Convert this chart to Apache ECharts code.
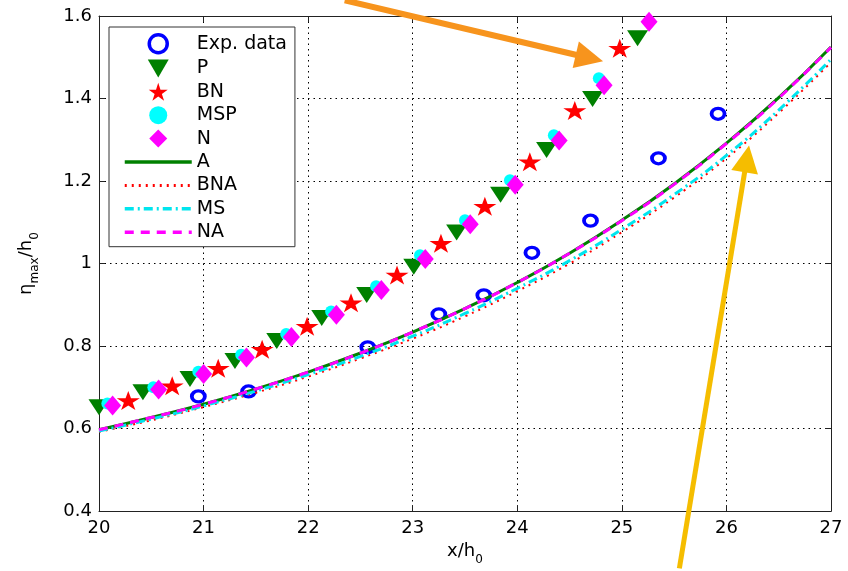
<!DOCTYPE html>
<html><head><meta charset="utf-8">
<script src="https://cdn.jsdelivr.net/npm/echarts@6/dist/echarts.min.js"></script>
<style>html,body{margin:0;padding:0;background:#fff}#c{width:848px;height:571px}</style>
</head><body><div id="c"></div><script>
// ---- data ----
const xMin = 20, xMax = 27, xStep = 1;
const yMin = 0.4, yMax = 1.6, yStep = 0.2;

const expX = [20.95, 21.43, 22.57, 23.25, 23.68, 24.14, 24.70, 25.35, 25.92];
const expY = [0.678, 0.690, 0.797, 0.877, 0.923, 1.026, 1.104, 1.255, 1.363];

const pX = [20.00, 20.42, 20.87, 21.30, 21.70, 22.13, 22.56, 23.01, 23.42, 23.84, 24.28, 24.72, 25.15];
const pY = [0.652, 0.688, 0.720, 0.764, 0.812, 0.868, 0.924, 0.992, 1.075, 1.167, 1.275, 1.399, 1.546];

const bnX = [20.28, 20.70, 21.14, 21.56, 21.99, 22.41, 22.85, 23.27, 23.69, 24.12, 24.55, 24.98];
const bnY = [0.668, 0.704, 0.746, 0.792, 0.848, 0.905, 0.972, 1.049, 1.139, 1.247, 1.371, 1.522];

const mspX = [20.08, 20.52, 20.95, 21.36, 21.79, 22.22, 22.65, 23.07, 23.50, 23.93, 24.35, 24.78];
const mspY = [0.661, 0.700, 0.738, 0.779, 0.829, 0.884, 0.945, 1.020, 1.105, 1.202, 1.311, 1.449];

const nX = [20.13, 20.57, 21.00, 21.41, 21.84, 22.27, 22.70, 23.12, 23.55, 23.98, 24.40, 24.83, 25.26];
const nY = [0.656, 0.695, 0.732, 0.772, 0.822, 0.876, 0.936, 1.011, 1.095, 1.191, 1.298, 1.432, 1.586];

const lineX = [20, 20.5, 21, 21.5, 22, 22.5, 23, 23.5, 24, 24.5, 25, 25.5, 26, 26.5, 27];
const aY   = [0.597, 0.627, 0.659, 0.696, 0.737, 0.783, 0.834, 0.891, 0.954, 1.025, 1.105, 1.193, 1.292, 1.402, 1.525];
const bnaY = [0.592, 0.620, 0.652, 0.687, 0.726, 0.770, 0.818, 0.872, 0.933, 1.000, 1.076, 1.160, 1.255, 1.365, 1.488];
const msY  = [0.594, 0.623, 0.655, 0.691, 0.731, 0.775, 0.824, 0.879, 0.940, 1.007, 1.083, 1.167, 1.262, 1.372, 1.495];
const naY  = [0.597, 0.627, 0.659, 0.696, 0.737, 0.783, 0.834, 0.891, 0.954, 1.025, 1.104, 1.192, 1.291, 1.401, 1.524];

const legendNames = ['Exp. data', 'P', 'BN', 'MSP', 'N', 'A', 'BNA', 'MS', 'NA'];

// annotation arrows, in data units: [tailX, tailY, tipX, tipY]
const orangeArrow = [22.35, 1.638, 24.82, 1.4905];
const yellowArrow = [25.55, 0.261, 26.216, 1.286];

// ---- helpers ----
const pairs = (xs, ys) => xs.map((x, i) => [x, ys[i]]);
const FONT = 'DejaVu Sans';
const STAR = 'path://M50,0 L61.2,34.5 L97.6,34.5 L68.2,55.9 L79.4,90.5 L50,69.1 L20.6,90.5 L31.8,55.9 L2.4,34.5 L38.8,34.5 Z';
const TRI_DOWN = 'path://M0,0 L100,0 L50,86 Z';
const DIAMOND = 'path://M50,0 L100,50 L50,100 L0,50 Z';
const LINE_NAMES = ['A', 'BNA', 'MS', 'NA'];

const chart = echarts.init(document.getElementById('c'), null, {renderer: 'canvas'});

const baseAxisLine = {show: true, lineStyle: {color: '#222', width: 1}};
const tickIn = {show: true, inside: true, length: 6, lineStyle: {color: '#222'}};
const gridDots = {show: true, lineStyle: {color: '#000', width: 1, type: [1.5, 4]}};

function lineSeries(name, ys, color, width, type) {
  return {
    name, type: 'line', data: pairs(lineX, ys), smooth: true, symbol: 'none', showSymbol: false,
    lineStyle: {color, width, type}, itemStyle: {color}, z: 3
  };
}
const subRich = {
  a: {fontFamily: FONT, fontSize: 18, lineHeight: 20, verticalAlign: 'top', color: '#000'},
  s: {fontFamily: FONT, fontSize: 12, lineHeight: 12, verticalAlign: 'top', padding: [12, 0, 0, 0], color: '#000'}
};

function legendItem(n) {
  if (LINE_NAMES.includes(n)) return {name: n, itemStyle: {opacity: 0}, lineStyle: {width: n === 'BNA' ? 3 : 3.5}};
  if (n === 'Exp. data') return {name: n, itemStyle: {borderWidth: 3.5}};
  return {name: n};
}

const option = {
  backgroundColor: '#fff',
  animation: false,
  grid: {left: 99, right: 17, top: 16, bottom: 54, containLabel: false},
  xAxis: [{
    type: 'value', min: xMin, max: xMax, interval: xStep,
    axisLine: baseAxisLine, axisTick: tickIn, splitLine: gridDots,
    axisLabel: {color: '#000', fontFamily: FONT, fontSize: 18, margin: 8},
    name: '{a|x/h}{s|0}', nameLocation: 'middle', nameGap: 26,
    nameTextStyle: {color: '#000', fontFamily: FONT, rich: subRich}
  }, {
    type: 'value', min: xMin, max: xMax, interval: xStep, position: 'top',
    axisLine: baseAxisLine, axisTick: tickIn, splitLine: {show: false}, axisLabel: {show: false}
  }],
  yAxis: [{
    type: 'value', min: yMin, max: yMax, interval: yStep,
    axisLine: baseAxisLine, axisTick: tickIn, splitLine: gridDots,
    axisLabel: {color: '#000', fontFamily: FONT, fontSize: 18, margin: 7},
    name: '{a|η}{s|max}{a|/h}{s|0}', nameLocation: 'middle', nameGap: 62,
    nameTextStyle: {color: '#000', fontFamily: FONT, rich: subRich}
  }, {
    type: 'value', min: yMin, max: yMax, interval: yStep, position: 'right',
    axisLine: baseAxisLine, axisTick: tickIn, splitLine: {show: false}, axisLabel: {show: false}
  }],
  legend: {
    orient: 'vertical', left: 109, top: 27,
    padding: [6, 8, 5, 14], itemGap: 4.4, itemWidth: 67, itemHeight: 18,
    backgroundColor: '#fff', borderColor: '#333', borderWidth: 1,
    selectedMode: false,
    textStyle: {color: '#000', fontFamily: FONT, fontSize: 19},
    data: legendNames.map(legendItem)
  },
  series: [
    {name: 'Exp. data', type: 'scatter', data: pairs(expX, expY), symbol: 'circle',
     symbolSize: [13, 11], itemStyle: {color: 'rgba(255,255,255,0)', borderColor: '#0000ff', borderWidth: 3.5, opacity: 1}, z: 2},
    {name: 'P', type: 'scatter', data: pairs(pX, pY), symbol: TRI_DOWN, symbolKeepAspect: false,
     symbolSize: [21, 16], itemStyle: {color: '#008000', opacity: 1}, z: 2},
    {name: 'BN', type: 'scatter', data: pairs(bnX, bnY), symbol: STAR, symbolKeepAspect: false,
     symbolSize: [23, 19], itemStyle: {color: '#ff0000', opacity: 1}, z: 2},
    {name: 'MSP', type: 'scatter', data: pairs(mspX, mspY), symbol: 'circle',
     symbolSize: 12, itemStyle: {color: '#00ffff', opacity: 1}, z: 2},
    {name: 'N', type: 'scatter', data: pairs(nX, nY), symbol: DIAMOND, symbolKeepAspect: false,
     symbolSize: [17, 20], itemStyle: {color: '#ff00ff', opacity: 1}, z: 2},
    lineSeries('A', aY, '#008000', 3, 'solid'),
    lineSeries('BNA', bnaY, '#ff0000', 2, [2, 5]),
    lineSeries('MS', msY, '#00e5ee', 3, [9, 4, 2, 4]),
    lineSeries('NA', naY, '#ff00ff', 3, [9, 7])
  ]
};
chart.setOption(option);

function arrowGraphics(a, color, shaftW, headL, headHW) {
  const s = chart.convertToPixel({gridIndex: 0}, [a[0], a[1]]);
  const t = chart.convertToPixel({gridIndex: 0}, [a[2], a[3]]);
  const dx = t[0] - s[0], dy = t[1] - s[1];
  const len = Math.sqrt(dx * dx + dy * dy);
  const ux = dx / len, uy = dy / len;
  const bx = t[0] - ux * headL, by = t[1] - uy * headL;
  const nx = -uy, ny = ux;
  return [
    {type: 'line', z: 100, shape: {x1: s[0], y1: s[1], x2: bx + ux * 2, y2: by + uy * 2},
     style: {stroke: color, lineWidth: shaftW}},
    {type: 'polygon', z: 100, shape: {points: [[t[0], t[1]], [bx + nx * headHW, by + ny * headHW], [bx - nx * headHW, by - ny * headHW]]},
     style: {fill: color}}
  ];
}
chart.setOption({
  graphic: [].concat(
    arrowGraphics(orangeArrow, '#f7941d', 6, 28, 13.5),
    arrowGraphics(yellowArrow, '#f5bd00', 5, 27, 13.5)
  )
});
</script></body></html>
